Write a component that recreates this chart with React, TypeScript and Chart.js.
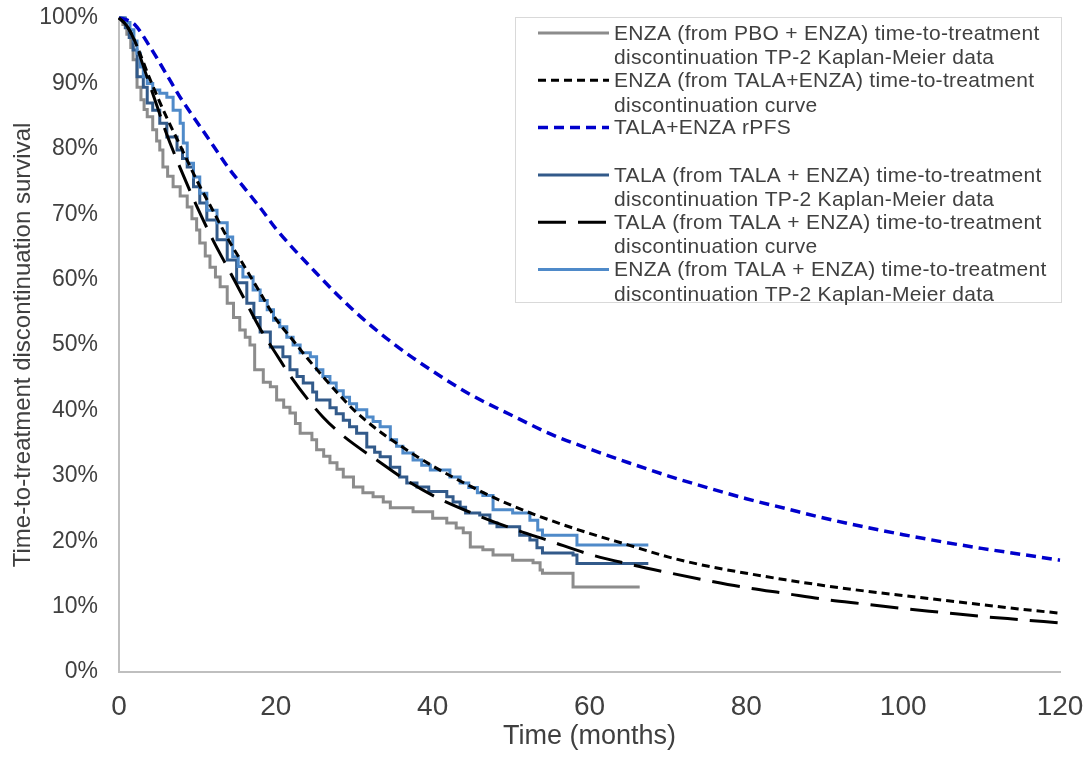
import React, { useEffect, useRef } from "react";
import { Chart, registerables } from "chart.js";

Chart.register(...registerables);

const FONT = "'Liberation Sans', Arial, sans-serif";

// Axis ticks
const xTickValues = [0, 20, 40, 60, 80, 100, 120];
const yTickStep = 10;

// ENZA (from PBO + ENZA) TTD Kaplan-Meier (grey)
const enzaPboKmTime = [0, 0.5, 1.0, 1.5, 1.8, 2.3, 2.8, 3.2, 3.6, 4.3, 4.8, 5.2, 5.6, 6.2, 6.9, 7.8, 8.7, 9.3, 9.9, 10.3, 11.0, 11.6, 12.3, 12.9, 13.8, 14.6, 15.4, 16.1, 16.7, 17.3, 18.4, 19.3, 20.1, 21.0, 21.8, 22.5, 23.1, 24.6, 25.2, 26.1, 26.9, 27.8, 28.6, 29.9, 31.1, 32.4, 33.7, 34.6, 37.5, 40.0, 41.8, 43.0, 43.9, 44.8, 46.4, 47.7, 50.2, 52.8, 53.7, 54.0, 57.9, 66.4];
const enzaPboKmSurv = [100, 99, 97.5, 95.5, 93.6, 89.4, 87.5, 86, 84.9, 82.9, 81.2, 79.8, 77.2, 75.8, 74.2, 72.8, 71.1, 69.3, 67.6, 65.6, 63.6, 61.9, 60.4, 58.9, 56.4, 54.2, 52.3, 51.2, 50, 46.2, 44.3, 43.6, 41.6, 40.5, 39.6, 38.0, 36.5, 35.5, 34.0, 33.0, 32.0, 31.0, 29.8, 28.3, 27.4, 26.8, 26.0, 25.1, 24.5, 23.5, 22.8, 22.0, 21.3, 19.1, 18.7, 17.9, 17.1, 16.7, 15.6, 15.1, 13.0, 13.0];

// ENZA (from TALA+ENZA) TTD fitted curve (short black dash)
const enzaCurveTime = [0, 1, 2, 4, 6, 8, 10, 12, 14, 16, 18, 20, 22, 24, 26, 28, 30, 33, 36, 40, 45, 50, 55, 60, 65, 70, 75, 80, 85, 90, 95, 100, 105, 110, 115, 120];
const enzaCurveSurv = [100, 98.8, 96.5, 90.5, 85, 80, 75, 70.5, 66, 62, 58, 54, 51, 48, 45.2, 42.5, 40, 37, 34.5, 31.5, 28.3, 25.5, 23.2, 21.2, 19.4, 17.6, 16.2, 15.1, 14.1, 13.2, 12.4, 11.7, 11, 10.3, 9.6, 9.0];

// TALA+ENZA rPFS (blue dash)
const rpfsTime = [0, 1, 2, 4, 6, 8, 10, 12, 14, 16, 18, 20, 25, 30, 35, 40, 45, 50, 55, 60, 65, 70, 75, 80, 85, 90, 95, 100, 105, 110, 115, 120];
const rpfsSurv = [100, 99.7, 99, 95.5, 91.5, 87.5, 84, 80.5, 77, 74, 71, 67.8, 61.2, 55.2, 50.2, 46, 42.3, 39.3, 36.4, 34.1, 32, 30, 28.2, 26.5, 25, 23.5, 22.2, 21, 19.9, 18.9, 18, 17.1];

// TALA (from TALA + ENZA) TTD Kaplan-Meier (dark blue)
const talaKmTime = [0, 0.8, 1.3, 1.8, 2.3, 3.1, 3.6, 4.3, 5.2, 6.1, 7.4, 8.1, 8.7, 9.5, 10.3, 11.2, 12.5, 13.8, 15.0, 16.3, 17.2, 18.0, 19.3, 20.9, 21.8, 22.7, 23.5, 24.7, 25.2, 26.9, 27.7, 28.6, 29.4, 30.3, 31.6, 32.6, 33.3, 34.6, 35.8, 36.7, 38.0, 39.5, 41.8, 42.6, 43.5, 44.2, 46.0, 47.3, 48.2, 51.1, 52.4, 53.3, 54.0, 57.9, 58.4, 67.5];
const talaKmSurv = [100, 98.5, 97, 95.1, 91, 89.4, 87, 85.9, 83.9, 81.8, 79.8, 78.5, 77.2, 74.2, 71.7, 69.1, 66.1, 63, 59.5, 56.4, 54.2, 52, 49.7, 48.2, 46.2, 45.2, 44.2, 42.8, 41.6, 40.4, 39.5, 38.5, 37.5, 36.5, 34.4, 33.6, 32.9, 31.3, 29.8, 28.9, 28.3, 27.6, 26.8, 26.0, 25.2, 24.3, 24.0, 22.8, 22.2, 20.9, 20.2, 19.0, 18.2, 17.9, 16.6, 16.6];

// TALA (from TALA + ENZA) TTD fitted curve (long black dash)
const talaCurveTime = [0, 1, 2, 3, 4, 5, 6, 8, 10, 12, 14, 16, 18, 20, 22, 24, 26, 28, 30, 33, 36, 40, 45, 50, 55, 60, 65, 70, 75, 80, 85, 90, 95, 100, 105, 110, 115, 120];
const talaCurveSurv = [100, 98.8, 96.5, 93, 89.5, 86, 82.5, 76.5, 71, 66, 61.5, 57, 52.5, 48.7, 45, 41.8, 39, 36.7, 34.8, 32.3, 29.8, 27, 24.3, 22, 20, 18, 16.5, 15.2, 14, 12.9, 12, 11.1, 10.4, 9.7, 9.1, 8.5, 8, 7.5];

// ENZA (from TALA + ENZA) TTD Kaplan-Meier (light blue)
const enzaTalaKmTime = [0, 0.7, 1.4, 1.9, 2.3, 2.7, 3.1, 3.6, 4.3, 5.2, 6.1, 6.9, 7.8, 8.2, 8.7, 9.5, 10.3, 11.2, 12.5, 13.8, 14.5, 15.2, 15.8, 17.1, 18.0, 18.9, 19.7, 20.5, 21.4, 22.2, 23.1, 24.4, 25.2, 26.0, 26.9, 27.7, 28.6, 29.4, 30.3, 31.6, 32.4, 33.3, 34.6, 35.4, 36.2, 37.5, 38.6, 39.7, 42.2, 43.5, 44.6, 45.7, 46.4, 47.7, 50.2, 52.4, 53.4, 54.0, 58.4, 67.5];
const enzaTalaKmSurv = [100, 99.3, 98.2, 96.5, 94.6, 92.5, 91, 90, 89, 88.5, 87.9, 85.9, 83.9, 80.9, 77.8, 75.7, 73.2, 70.6, 68.7, 66.5, 63.5, 62, 60.4, 58.4, 56.8, 55.4, 53.8, 52.8, 51.2, 50.0, 48.8, 48.2, 46.2, 45.2, 44.2, 43.0, 42.0, 41.0, 40.1, 39.0, 38.3, 37.5, 35.5, 34.5, 33.5, 32.4, 31.6, 30.9, 29.8, 28.9, 28.2, 27.4, 27.0, 24.8, 24.3, 23.2, 21.7, 20.9, 19.4, 19.4];

const legendEntries = [
  { lines: ["ENZA (from PBO + ENZA) time-to-treatment", "discontinuation TP-2 Kaplan-Meier data"], color: "#8c8c8c", dash: [] as number[], width: 3 },
  { lines: ["ENZA (from TALA+ENZA) time-to-treatment", "discontinuation curve"], color: "#000000", dash: [8, 5], width: 3 },
  { lines: ["TALA+ENZA rPFS"], color: "#0000cc", dash: [10, 6], width: 3.5 },
  { lines: ["TALA (from TALA + ENZA) time-to-treatment", "discontinuation TP-2 Kaplan-Meier data"], color: "#325a8a", dash: [] as number[], width: 3 },
  { lines: ["TALA (from TALA + ENZA) time-to-treatment", "discontinuation curve"], color: "#000000", dash: [28, 12], width: 3 },
  { lines: ["ENZA (from TALA + ENZA) time-to-treatment", "discontinuation TP-2 Kaplan-Meier data"], color: "#4f8ac9", dash: [] as number[], width: 3 },
];

const toPts = (t: number[], s: number[]) => t.map((x, i) => ({ x, y: s[i] }));

const legendPlugin = {
  id: "boxLegend",
  afterDraw(chart: any) {
    const ctx = chart.ctx as CanvasRenderingContext2D;
    const boxL = 515, boxT = 17, boxR = 1062, boxB = 303;
    ctx.save();
    ctx.fillStyle = "#ffffff";
    ctx.fillRect(boxL, boxT, boxR - boxL, boxB - boxT);
    ctx.strokeStyle = "#d9d9d9";
    ctx.lineWidth = 1;
    ctx.setLineDash([]);
    ctx.strokeRect(boxL + 0.5, boxT + 0.5, boxR - boxL - 1, boxB - boxT - 1);
    const firstY = 33;
    const entryStep = 47.3;
    const lineStep = 24.5;
    ctx.font = `21px ${FONT}`;
    try { (ctx as any).letterSpacing = "0.3px"; } catch (e) {}
    ctx.textBaseline = "middle";
    ctx.textAlign = "left";
    legendEntries.forEach((e, i) => {
      const y = firstY + i * entryStep;
      ctx.beginPath();
      ctx.strokeStyle = e.color;
      ctx.lineWidth = e.width;
      ctx.setLineDash(e.dash);
      ctx.moveTo(538, y);
      ctx.lineTo(609, y);
      ctx.stroke();
      ctx.setLineDash([]);
      ctx.fillStyle = "#404040";
      e.lines.forEach((ln, j) => ctx.fillText(ln, 614, y + j * lineStep + 1));
    });
    ctx.restore();
  },
};

export default function App() {
  const ref = useRef<HTMLCanvasElement | null>(null);
  useEffect(() => {
    if (!ref.current) return;
    const chart = new Chart(ref.current, {
      type: "line",
      data: {
        datasets: [
          { label: "TALA curve", data: toPts(talaCurveTime, talaCurveSurv), borderColor: "#000000", borderWidth: 3, borderDash: [28, 12], cubicInterpolationMode: "monotone", order: 0 },
          { label: "ENZA curve", data: toPts(enzaCurveTime, enzaCurveSurv), borderColor: "#000000", borderWidth: 3, borderDash: [8, 5], cubicInterpolationMode: "monotone", order: 1 },
          { label: "rPFS", data: toPts(rpfsTime, rpfsSurv), borderColor: "#0000cc", borderWidth: 3.5, borderDash: [10, 6], cubicInterpolationMode: "monotone", order: 2 },
          { label: "ENZA TALA KM", data: toPts(enzaTalaKmTime, enzaTalaKmSurv), borderColor: "#4f8ac9", borderWidth: 3, stepped: "before", order: 3 },
          { label: "TALA KM", data: toPts(talaKmTime, talaKmSurv), borderColor: "#325a8a", borderWidth: 3, stepped: "before", order: 4 },
          { label: "ENZA PBO KM", data: toPts(enzaPboKmTime, enzaPboKmSurv), borderColor: "#8c8c8c", borderWidth: 3, stepped: "before", order: 5 },
        ] as any,
      },
      options: {
        animation: false,
        responsive: true,
        maintainAspectRatio: false,
        layout: { padding: { top: 18, right: 29, left: 0, bottom: 0 } },
        elements: { point: { radius: 0 }, line: { fill: false } },
        datasets: { line: { clip: 6 } as any },
        plugins: { legend: { display: false }, tooltip: { enabled: false } },
        scales: {
          x: {
            type: "linear",
            min: xTickValues[0],
            max: xTickValues[xTickValues.length - 1],
            afterBuildTicks: (s: any) => { s.ticks = xTickValues.map((v) => ({ value: v })); },
            ticks: { font: { size: 28, family: FONT }, color: "#404040", padding: 18 },
            grid: { display: false, drawTicks: false },
            border: { display: true, color: "#bfbfbf", width: 2 },
            title: { display: true, text: "Time (months)", font: { size: 27, family: FONT }, color: "#404040", padding: { top: 0, bottom: 15 } },
            afterFit: (s: any) => { s.height = 96; s.paddingLeft = 0; s.paddingRight = 0; },
          },
          y: {
            type: "linear",
            min: 0,
            max: 100,
            ticks: { stepSize: yTickStep, callback: (v: any) => `${v}%`, font: { size: 23, family: FONT }, color: "#404040", padding: 21 },
            grid: { display: false, drawTicks: false },
            border: { display: true, color: "#bfbfbf", width: 2 },
            title: { display: true, text: "Time-to-treatment discontinuation survival", font: { size: 24, family: FONT }, color: "#404040", padding: { top: 9, bottom: 0 } },
            afterFit: (s: any) => { s.width = 119; s.paddingTop = 0; s.paddingBottom = 0; },
          },
        },
      } as any,
      plugins: [legendPlugin],
    });
    return () => chart.destroy();
  }, []);
  return (
    <div style={{ position: "absolute", left: 0, top: 0, width: 1089, height: 768, background: "#fff" }}>
      <canvas ref={ref} />
    </div>
  );
}
